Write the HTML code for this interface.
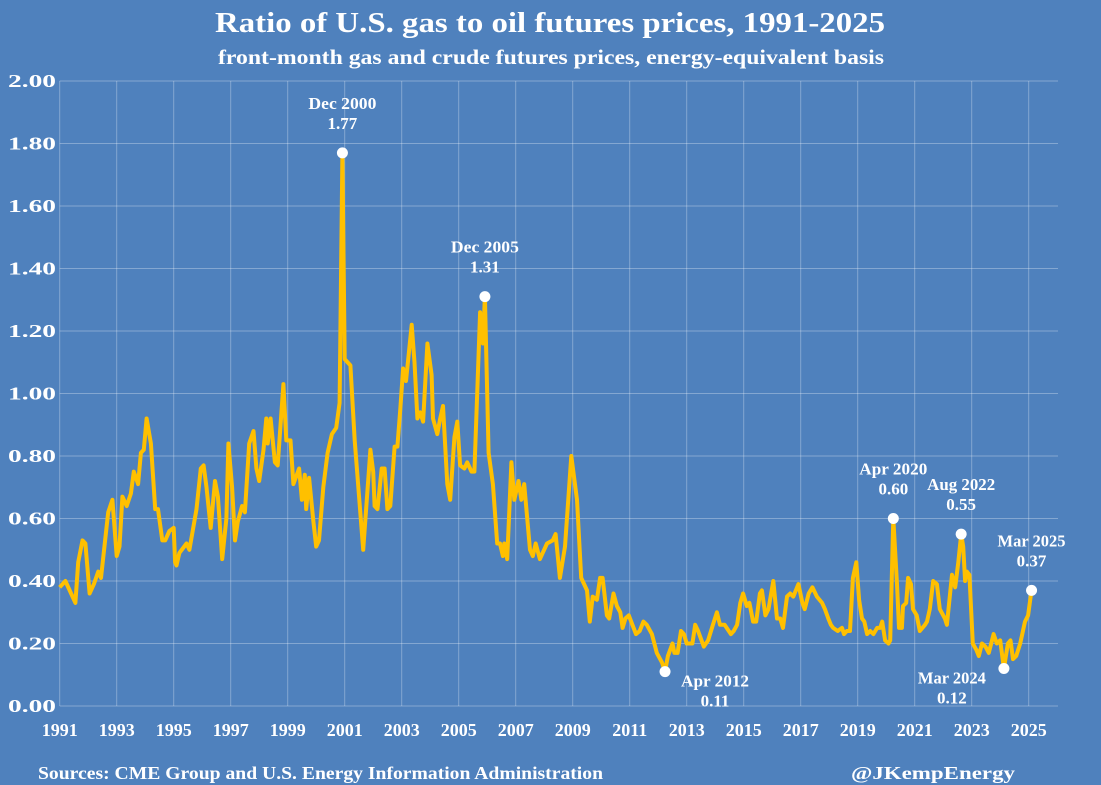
<!DOCTYPE html>
<html><head><meta charset="utf-8"><style>
html,body{margin:0;padding:0;background:#4f81bd;}
svg{display:block;font-family:"Liberation Serif",serif;font-weight:bold;fill:#fff;}
</style></head><body>
<svg id="chart" width="1101" height="785" viewBox="0 0 1101 785" xmlns="http://www.w3.org/2000/svg">
<rect x="0" y="0" width="1101" height="785" fill="#4f81bd"/>
<text x="215" y="32" font-size="29" textLength="670" lengthAdjust="spacingAndGlyphs">Ratio of U.S. gas to oil futures prices, 1991-2025</text>
<text x="218" y="64" font-size="21" textLength="666" lengthAdjust="spacingAndGlyphs">front-month gas and crude futures prices, energy-equivalent basis</text>
<g id="grid"></g>
<g id="yaxis"></g>
<g id="xaxis"></g>
<g id="series"></g>
<g id="annots"></g>
<text x="38" y="779" font-size="18" textLength="565" lengthAdjust="spacingAndGlyphs">Sources: CME Group and U.S. Energy Information Administration</text>
<text x="851" y="779" font-size="18" textLength="164" lengthAdjust="spacingAndGlyphs">@JKempEnergy</text>
</svg>
<script>
const yTicks = [0,0.2,0.4,0.6,0.8,1.0,1.2,1.4,1.6,1.8,2.0];
const xTicks = [1991,1993,1995,1997,1999,2001,2003,2005,2007,2009,2011,2013,2015,2017,2019,2021,2023,2025];
const dates = [1991.0,1991.2,1991.4,1991.55,1991.65,1991.8,1991.9,1992.05,1992.2,1992.35,1992.45,1992.7,1992.85,1993.0,1993.1,1993.2,1993.35,1993.5,1993.6,1993.75,1993.85,1993.95,1994.05,1994.2,1994.35,1994.45,1994.6,1994.7,1994.85,1995.0,1995.05,1995.1,1995.2,1995.45,1995.55,1995.8,1995.95,1996.05,1996.15,1996.3,1996.45,1996.55,1996.7,1996.85,1996.92,1997.05,1997.15,1997.25,1997.4,1997.5,1997.65,1997.8,1997.9,1998.0,1998.15,1998.25,1998.3,1998.4,1998.55,1998.65,1998.85,1998.95,1999.1,1999.2,1999.4,1999.5,1999.6,1999.65,1999.75,1999.9,2000.0,2000.1,2000.25,2000.4,2000.55,2000.7,2000.82,2000.92,2001.0,2001.2,2001.35,2001.65,2001.9,2002.0,2002.05,2002.15,2002.3,2002.4,2002.5,2002.6,2002.75,2002.85,2002.95,2003.05,2003.15,2003.35,2003.45,2003.55,2003.65,2003.75,2003.9,2004.05,2004.1,2004.25,2004.35,2004.45,2004.6,2004.7,2004.85,2004.95,2005.05,2005.2,2005.3,2005.45,2005.55,2005.75,2005.85,2005.92,2006.05,2006.2,2006.35,2006.45,2006.55,2006.6,2006.7,2006.85,2006.95,2007.1,2007.2,2007.3,2007.5,2007.6,2007.7,2007.85,2008.1,2008.3,2008.4,2008.55,2008.73,2008.95,2009.15,2009.3,2009.5,2009.6,2009.7,2009.85,2009.96,2010.05,2010.2,2010.28,2010.43,2010.55,2010.67,2010.75,2010.85,2010.97,2011.22,2011.35,2011.48,2011.6,2011.78,2011.95,2012.13,2012.24,2012.34,2012.5,2012.57,2012.68,2012.8,2012.9,2013.0,2013.2,2013.3,2013.4,2013.6,2013.75,2013.92,2014.06,2014.17,2014.33,2014.55,2014.65,2014.77,2014.88,2014.98,2015.11,2015.2,2015.33,2015.44,2015.57,2015.64,2015.76,2015.87,2016.04,2016.17,2016.28,2016.38,2016.52,2016.63,2016.74,2016.92,2017.06,2017.14,2017.28,2017.41,2017.57,2017.75,2017.85,2017.97,2018.06,2018.14,2018.3,2018.45,2018.52,2018.62,2018.73,2018.83,2018.95,2019.05,2019.15,2019.23,2019.33,2019.44,2019.55,2019.68,2019.79,2019.86,2019.96,2020.08,2020.14,2020.25,2020.38,2020.45,2020.55,2020.59,2020.7,2020.77,2020.87,2020.94,2021.07,2021.18,2021.36,2021.43,2021.53,2021.65,2021.78,2021.88,2022.06,2022.13,2022.31,2022.42,2022.53,2022.63,2022.7,2022.77,2022.83,2022.92,2023.04,2023.16,2023.25,2023.36,2023.48,2023.6,2023.77,2023.88,2024.0,2024.13,2024.27,2024.36,2024.45,2024.56,2024.7,2024.87,2024.98,2025.1];
const ratios = [0.38,0.40,0.36,0.33,0.46,0.53,0.52,0.36,0.39,0.43,0.41,0.62,0.66,0.48,0.51,0.67,0.64,0.68,0.75,0.71,0.81,0.82,0.92,0.84,0.63,0.63,0.53,0.53,0.56,0.57,0.46,0.45,0.49,0.52,0.50,0.63,0.76,0.77,0.70,0.57,0.72,0.67,0.47,0.60,0.84,0.70,0.53,0.59,0.64,0.62,0.84,0.88,0.76,0.72,0.82,0.92,0.84,0.92,0.78,0.77,1.03,0.85,0.85,0.71,0.76,0.66,0.74,0.63,0.73,0.59,0.51,0.53,0.70,0.81,0.87,0.89,0.97,1.77,1.11,1.09,0.85,0.50,0.82,0.75,0.64,0.63,0.76,0.76,0.63,0.64,0.83,0.83,0.95,1.08,1.04,1.22,1.10,0.92,0.94,0.91,1.16,1.06,0.92,0.87,0.92,0.96,0.71,0.66,0.86,0.91,0.77,0.76,0.78,0.75,0.75,1.26,1.16,1.31,0.81,0.71,0.52,0.52,0.48,0.52,0.47,0.78,0.66,0.72,0.66,0.71,0.50,0.48,0.52,0.47,0.52,0.53,0.55,0.41,0.51,0.80,0.66,0.41,0.37,0.27,0.35,0.34,0.41,0.41,0.29,0.28,0.36,0.32,0.30,0.25,0.28,0.29,0.23,0.24,0.27,0.26,0.23,0.17,0.14,0.11,0.16,0.20,0.17,0.17,0.24,0.23,0.20,0.20,0.26,0.24,0.19,0.21,0.26,0.30,0.26,0.26,0.23,0.24,0.26,0.33,0.36,0.32,0.33,0.27,0.27,0.36,0.37,0.29,0.31,0.40,0.28,0.28,0.25,0.35,0.36,0.35,0.39,0.33,0.31,0.36,0.38,0.35,0.33,0.31,0.28,0.26,0.25,0.24,0.25,0.23,0.24,0.24,0.41,0.46,0.34,0.28,0.27,0.23,0.24,0.23,0.25,0.25,0.27,0.21,0.20,0.21,0.60,0.39,0.25,0.25,0.32,0.33,0.41,0.39,0.31,0.29,0.24,0.26,0.27,0.31,0.40,0.39,0.31,0.28,0.26,0.42,0.38,0.46,0.55,0.51,0.40,0.43,0.42,0.20,0.18,0.16,0.20,0.19,0.17,0.23,0.20,0.21,0.12,0.20,0.21,0.15,0.16,0.20,0.27,0.29,0.37];
const annotLabels = ["Dec 2000","Dec 2005","Apr 2012","Apr 2020","Aug 2022","Mar 2024","Mar 2025"];
const annotDates = [2000.92,2005.92,2012.24,2020.25,2022.63,2024.13,2025.1];
const annotValues = [1.77,1.31,0.11,0.60,0.55,0.12,0.37];

const NS="http://www.w3.org/2000/svg";
const X0=59.7, X1=1058, YB=706, YT=81;
const xS = d => X0 + (d-1991)*28.5;
const yS = v => YB - (v/2.0)*(YB-YT);
function mk(tag, attrs, parent){const e=document.createElementNS(NS,tag);for(const k in attrs)e.setAttribute(k,attrs[k]);parent.appendChild(e);return e;}
const grid=document.getElementById('grid'), ya=document.getElementById('yaxis'), xa=document.getElementById('xaxis');
yTicks.forEach(t=>{
  const l=mk('line',{x1:X0,x2:X1,y1:yS(t),y2:yS(t),stroke:'rgba(255,255,255,0.3)','stroke-width':1},grid);
  
  
  const tx=mk('text',{x:8,y:yS(t)+6,'font-size':18,textLength:48,lengthAdjust:'spacingAndGlyphs'},ya);
  tx.textContent=t.toFixed(2);
  
  
});
xTicks.forEach(t=>{
  const l=mk('line',{x1:xS(t),x2:xS(t),y1:YT,y2:YB,stroke:'rgba(255,255,255,0.3)','stroke-width':1},grid);
  
  
  const tx=mk('text',{x:xS(t),y:736,'text-anchor':'middle','font-size':18},xa);
  tx.textContent=t;
  
  
});
const pts=dates.map((d,i)=>xS(d).toFixed(1)+','+yS(ratios[i]).toFixed(1)).join(' ');
const pl=mk('polyline',{points:pts,fill:'none',stroke:'#ffc000','stroke-width':4,'stroke-linejoin':'round'},document.getElementById('series'));


const an=document.getElementById('annots');
const offs=[[0,-44],[0,-44],[50,15],[0,-44],[0,-44],[-52,15],[0,-44]];
annotLabels.forEach((lab,i)=>{
  const cx=xS(annotDates[i]), cy=yS(annotValues[i]);
  const c=mk('circle',{cx:cx,cy:cy,r:5.5,fill:'#fff'},an);
  
  
  const t1=mk('text',{x:cx+offs[i][0],y:cy+offs[i][1],'text-anchor':'middle','font-size':17,textLength:68,lengthAdjust:'spacingAndGlyphs'},an);
  t1.textContent=lab;
  
  
  const t2=mk('text',{x:cx+offs[i][0],y:cy+offs[i][1]+20,'text-anchor':'middle','font-size':17},an);
  t2.textContent=annotValues[i].toFixed(2);
  
  
});
</script>
</body></html>
